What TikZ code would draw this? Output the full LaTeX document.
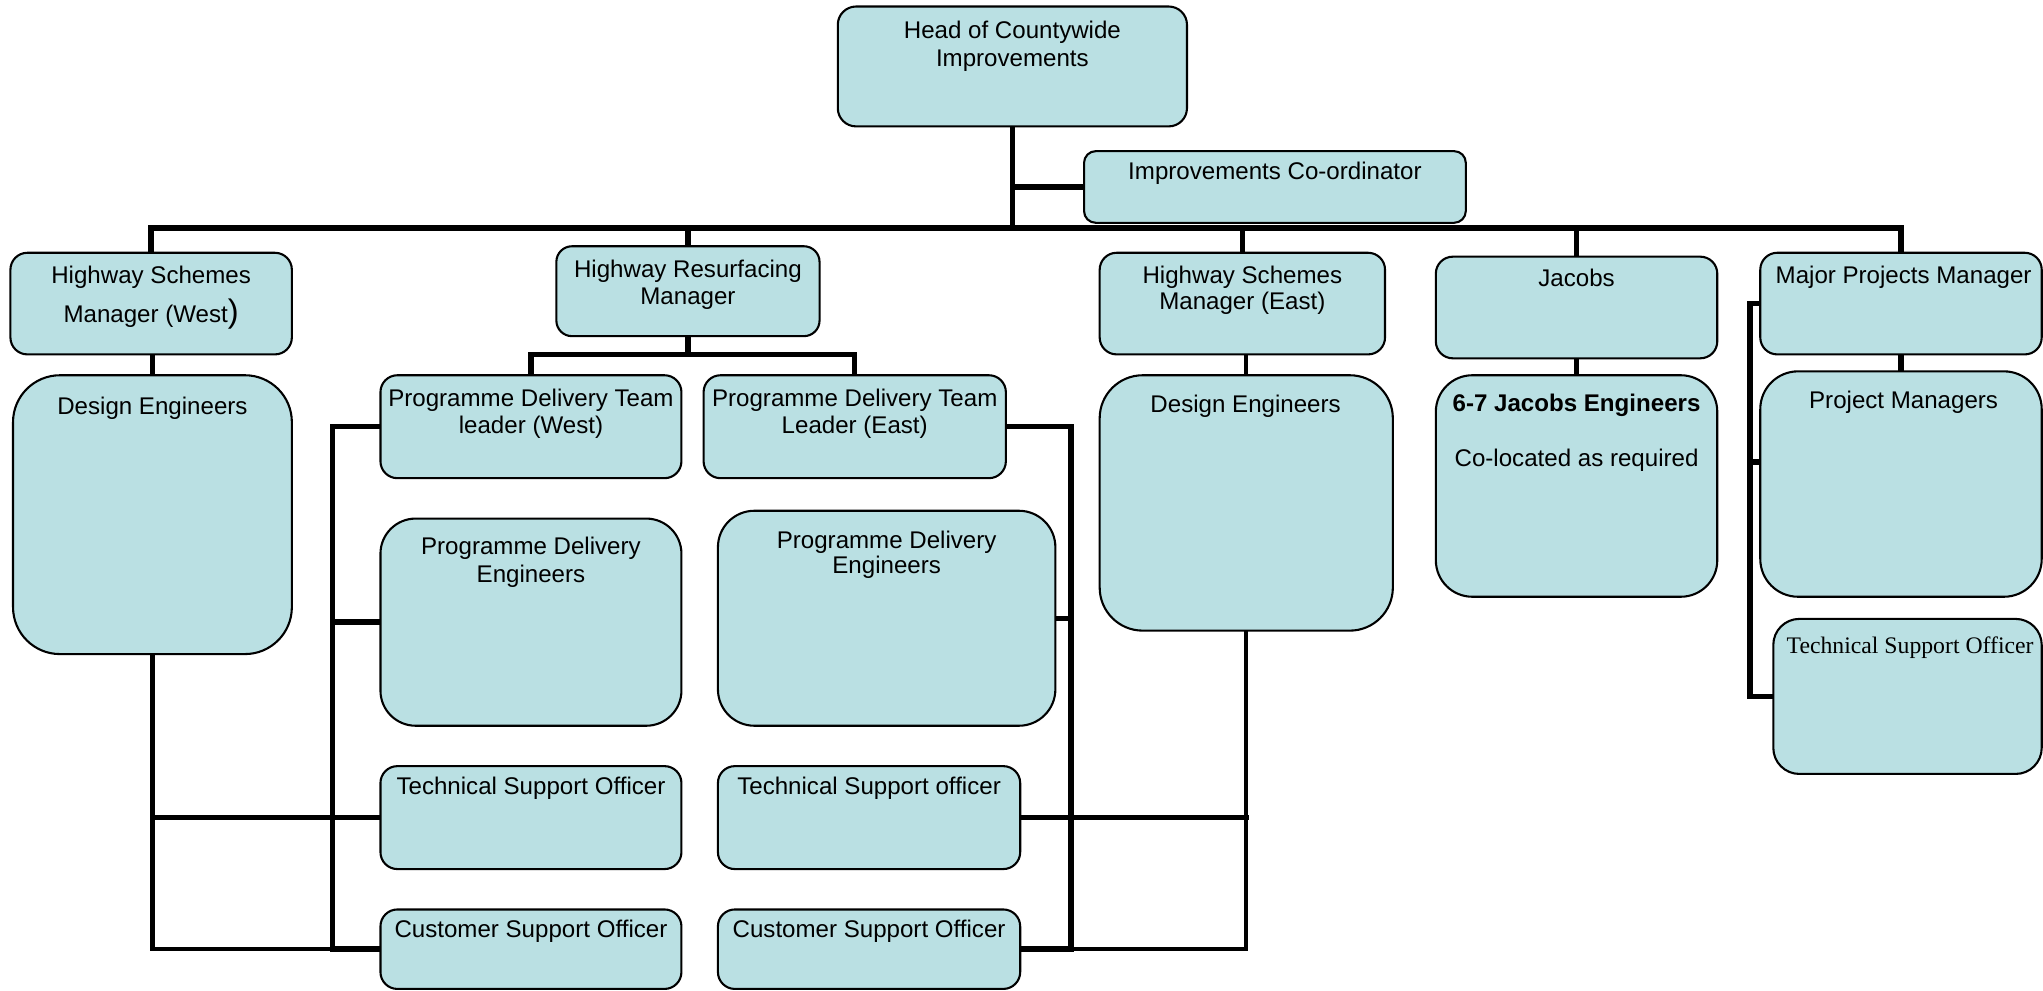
\documentclass[tikz,border=0pt]{standalone}
\usepackage{fontspec}
\setmainfont{Liberation Sans}
\newfontfamily\timesfont{Liberation Serif}
\usetikzlibrary{fit,calc,backgrounds}
\definecolor{boxfill}{RGB}{186,224,227}
\newcommand\orgbox[6]{\node[box, rounded corners=#6pt, fit={(#2,#3) (#4,#5)}] (#1) {};}
\begin{document}
\begin{tikzpicture}[x=0.5pt,y=-0.5pt,
  box/.style={draw=black, line width=0.8pt, fill=boxfill, inner sep=0pt},
  txt/.style={anchor=north, align=center, inner sep=0pt, yshift=-1pt, font=\fontsize{9.25pt}{10.5pt}\selectfont},
  conn/.style={line width=2.1pt, line cap=rect, line join=miter},
  connthin/.style={line width=1.6pt, line cap=rect, line join=miter}]
\useasboundingbox (0,0) rectangle (1568,760);
% boxes
\orgbox{head}{643}{5}{911}{97}{7}
\orgbox{coord}{832}{116}{1125}{171}{4.5}
\orgbox{hswest}{8}{194}{224}{272}{6.5}
\orgbox{hrm}{427}{189}{629}{258}{6}
\orgbox{hseast}{844}{194}{1063}{272}{6.5}
\orgbox{jacobs}{1102}{197}{1318}{275}{6.5}
\orgbox{mpm}{1351}{194}{1567}{272}{6.5}
\orgbox{dewest}{10}{288}{224}{502}{18}
\orgbox{pdtlw}{292}{288}{523}{367}{6.5}
\orgbox{pdtle}{540}{288}{772}{367}{6.5}
\orgbox{deeast}{844}{288}{1069}{484}{16.5}
\orgbox{jeng}{1102}{288}{1318}{458}{14}
\orgbox{pm}{1351}{285}{1567}{458}{14.5}
\orgbox{pdew}{292}{398}{523}{557}{13.5}
\orgbox{pdee}{551}{392}{810}{557}{14}
\orgbox{tsow}{292}{588}{523}{667}{6.5}
\orgbox{tsoe}{551}{588}{783}{667}{6.5}
\orgbox{tsor}{1361}{475}{1567}{594}{10}
\orgbox{csow}{292}{698}{523}{759}{6.5}
\orgbox{csoe}{551}{698}{783}{759}{6.5}
% texts
\node[txt] (headT) at (777,14) {Head of Countywide\\Improvements};
\node[txt] (coordT) at (978.5,122) {Improvements Co-ordinator};
\node[txt] (hswestT) at (116,202) {Highway Schemes\\[2.75pt]Manager (West{\fontsize{12.5pt}{10.5pt}\selectfont)}};
\node[txt] (hrmT) at (528,197) {Highway Resurfacing\\Manager};
\node[txt] (hseastT) at (953.5,202) {Highway Schemes\\[-0.5pt]Manager (East)};
\node[txt] (jacobsT) at (1210,204) {Jacobs};
\node[txt] (mpmT) at (1461,202) {Major Projects Manager};
\node[txt] (dewestT) at (117,302) {Design Engineers};
\node[txt] (pdtlwT) at (407.5,296) {Programme Delivery Team\\leader (West)};
\node[txt] (pdtleT) at (656,296) {Programme Delivery Team\\Leader (East)};
\node[txt] (deeastT) at (956,301) {Design Engineers};
\node[txt] (jengT) at (1210,300) {\textbf{6-7 Jacobs Engineers}\\[10.5pt]Co-located as required};
\node[txt] (pmT) at (1461,298) {Project Managers};
\node[txt] (pdewT) at (407.5,410) {Programme Delivery\\Engineers};
\node[txt] (pdeeT) at (680.5,405) {Programme Delivery\\[-1pt]Engineers};
\node[txt] (tsowT) at (407.5,594) {Technical Support Officer};
\node[txt] (tsoeT) at (667,594) {Technical Support officer};
\node[txt, font=\timesfont\fontsize{9.1pt}{10.5pt}\selectfont] (tsorT) at (1466,486) {Technical Support Officer};
\node[txt] (csowT) at (407.5,704) {Customer Support Officer};
\node[txt] (csoeT) at (667,704) {Customer Support Officer};
% connectors
\begin{scope}[on background layer]
\coordinate (bus) at (0,175);
\coordinate (hbus) at (0,272);
\coordinate (lx) at (255,0);
\coordinate (rx) at (822,0);
\coordinate (mx) at (1343,0);
\coordinate (pmstub) at ($(pm.west)+(0,-17)$);
\draw[conn] (head.south) -- (head.south |- bus);
\draw[conn] (head.south |- coord.west) -- (coord.west);
\draw[conn] (hswest.north |- bus) -- (mpm.north |- bus);
\foreach \n in {hswest,hrm,hseast,jacobs,mpm}
  \draw[conn] (\n.north) -- (\n.north |- bus);
\draw[connthin] (dewest.north) -- (dewest.north |- hswest.south);
\draw[conn] (hrm.south) -- (hrm.south |- hbus);
\draw[conn] (pdtlw.north) -- (pdtlw.north |- hbus) -- (pdtle.north |- hbus) -- (pdtle.north);
\draw[conn] (pdtlw.west) -- (pdtlw.west -| lx) -- (csow.west -| lx) -- (csow.west);
\draw[conn] (pdew.west -| lx) -- (pdew.west);
\draw[conn] (tsow.west -| lx) -- (tsow.west);
\draw[conn] (pdtle.east) -- (pdtle.east -| rx) -- (csoe.east -| rx) -- (csoe.east);
\draw[conn] (pdee.east -| rx) -- (pdee.east);
\draw[conn] (tsoe.east -| rx) -- (tsoe.east);
\draw[connthin] (dewest.south) -- (dewest.south |- csow.west) -- (csow.west);
\draw[conn] (dewest.south |- tsow.west) -- (tsow.west);
\draw[connthin] (deeast.south) -- (deeast.south |- csoe.east) -- (csoe.east);
\draw[conn] (deeast.south |- tsoe.east) -- (tsoe.east);
\draw[connthin] (deeast.north) -- (deeast.north |- hseast.south);
\draw[conn] (jeng.north) -- (jacobs.south);
\draw[conn] (pm.north) -- (mpm.south);
\draw[conn] (mpm.west) -- (mpm.west -| mx) -- (tsor.west -| mx) -- (tsor.west);
\draw[conn] (pmstub -| mx) -- (pmstub);
\end{scope}
\end{tikzpicture}
\end{document}
